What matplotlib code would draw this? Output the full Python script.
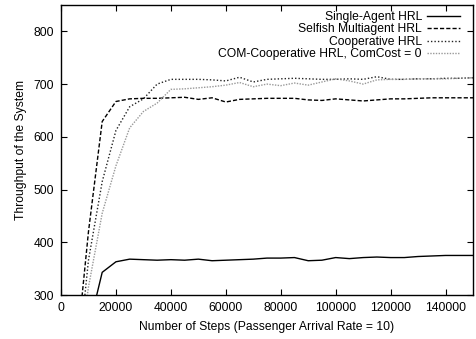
import matplotlib
matplotlib.use('Agg')
from matplotlib import pyplot as plt

plt.rcParams['font.family'] = ['Liberation Sans', 'DejaVu Sans']
plt.rcParams['font.size'] = 8.7

steps = list(range(5000, 150001, 5000))

single = [100, 235, 343, 363, 368, 367, 366, 367, 366, 368, 365, 366, 367, 368, 370,
          370, 371, 365, 366, 371, 369, 371, 372, 371, 371, 373, 374, 375, 375, 375]
selfish = [159, 420, 629, 667, 672, 673, 673, 674, 675, 671, 674, 666, 671, 672, 673,
           673, 673, 670, 669, 672, 670, 668, 670, 672, 672, 673, 674, 674, 674, 674]
coop = [112, 366, 515, 612, 657, 672, 700, 709, 709, 709, 708, 706, 713, 704, 709,
        710, 711, 710, 709, 709, 710, 709, 714, 709, 709, 710, 710, 711, 711, 712]
comcoop = [127, 315, 455, 545, 617, 648, 664, 690, 691, 693, 695, 698, 703, 695, 700,
           697, 702, 698, 704, 710, 706, 700, 708, 709, 709, 710, 710, 710, 711, 712]

labels = ['Single-Agent HRL', 'Selfish Multiagent HRL', 'Cooperative HRL',
          'COM-Cooperative HRL, ComCost = 0']

fig = plt.figure(figsize=(4.77, 3.39), dpi=100)
ax = fig.add_axes([61 / 477, 44 / 339, 412 / 477, 290 / 339])

ax.plot(steps, single, color='black', lw=1.0, label=labels[0])
ax.plot(steps, selfish, color='black', lw=1.0, linestyle=(0, (3, 1.5)), label=labels[1])
ax.plot(steps, coop, color='#222222', lw=1.0, linestyle=(0, (1, 1.5)), label=labels[2])
ax.plot(steps, comcoop, color='#999999', lw=1.0, linestyle=(0, (1, 1)), label=labels[3])

ax.set_xlim(0, 150000)
ax.set_ylim(300, 850)
ax.set_xticks(range(0, 140001, 20000))
ax.set_yticks(range(300, 801, 100))
ax.tick_params(direction='in', length=4, width=0.8, top=True, right=True, labelsize=8.7)
ax.tick_params(axis='x', pad=5)
ax.tick_params(axis='y', pad=5)
for s in ax.spines.values():
    s.set_linewidth(1.0)

ax.set_xlabel('Number of Steps (Passenger Arrival Rate = 10)', labelpad=5)
ax.set_ylabel('Throughput of the System', labelpad=5)

leg = ax.legend(loc='upper right', frameon=False, markerfirst=False,
                handlelength=2.7, labelspacing=0.03, borderaxespad=0.2,
                borderpad=0.3, handletextpad=0.45, bbox_to_anchor=(0.983, 1.0))
# right-align legend rows like gnuplot
for col in leg._legend_handle_box.get_children():
    col.align = 'right'

fig.savefig('out.png', dpi=100)
